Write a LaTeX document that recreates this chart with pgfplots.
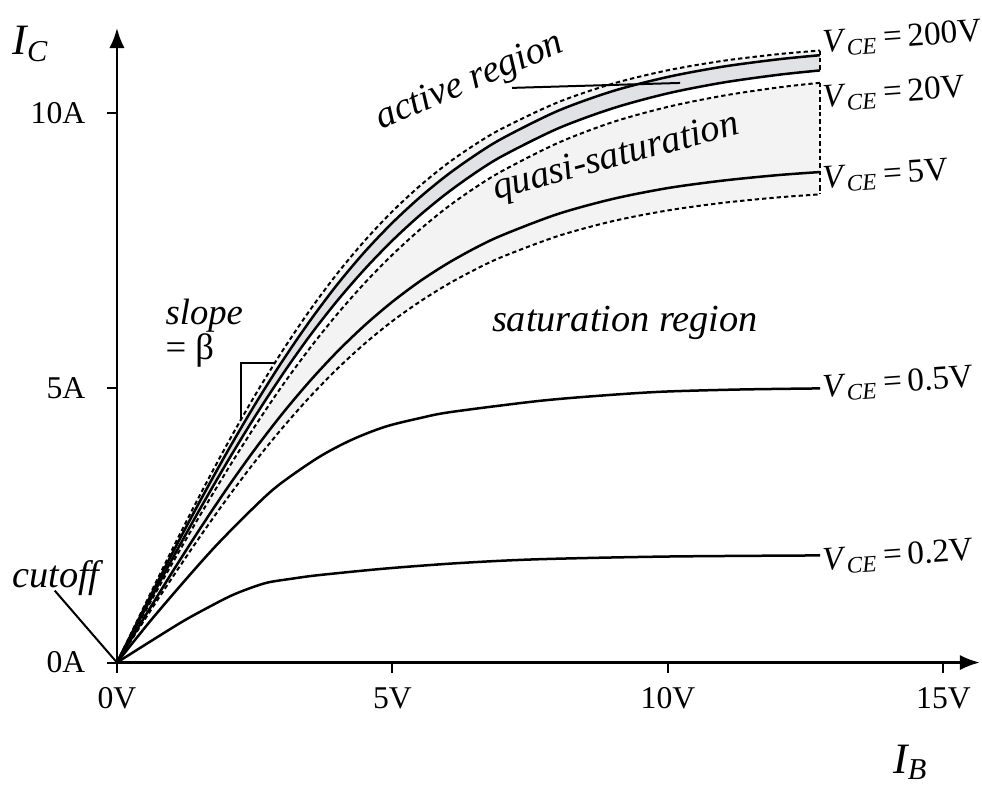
\documentclass[border=0pt]{standalone}
\usepackage{fontspec}
\setmainfont{Liberation Serif}[ItalicFont={Liberation Serif Italic}]
\usepackage{pgfplots}
\usepackage{pgfplotstable}
\pgfplotsset{compat=1.18}
\usepgfplotslibrary{fillbetween}
\usetikzlibrary{arrows.meta}

\definecolor{bandlight}{HTML}{F3F3F3}
\definecolor{banddark}{HTML}{E1E2E5}

% upper bundle: envelope top, 200V, 20V, quasi top, 5V, envelope bottom
\pgfplotstableread{
x     top    v200   v20    qtop   v5     bot
0     0      0      0      0      0      0
0.5   1.037  0.998  0.948  0.908  0.827  0.778
1     2.055  1.980  1.879  1.799  1.640  1.541
1.5   3.038  2.926  2.782  2.668  2.425  2.281
2     3.976  3.833  3.649  3.502  3.174  2.987
2.5   4.856  4.689  4.470  4.296  3.877  3.651
3     5.668  5.484  5.238  5.040  4.528  4.267
3.5   6.412  6.216  5.947  5.721  5.122  4.834
4     7.084  6.884  6.588  6.346  5.661  5.348
4.5   7.683  7.480  7.165  6.913  6.142  5.808
5     8.214  8.006  7.683  7.424  6.568  6.216
5.5   8.679  8.470  8.144  7.883  6.942  6.571
6     9.085  8.879  8.552  8.291  7.265  6.883
6.5   9.430  9.234  8.911  8.644  7.544  7.153
7     9.726  9.544  9.223  8.952  7.782  7.388
8     10.197 10.041 9.720  9.457  8.164  7.762
9     10.538 10.402 10.089 9.838  8.439  8.035
10    10.781 10.660 10.361 10.115 8.637  8.230
11    10.953 10.847 10.557 10.318 8.773  8.368
12    11.074 10.980 10.698 10.468 8.873  8.467
12.76 11.140 11.055 10.778 10.553 8.928  8.522
}\upper

\pgfplotstableread{
x     y
0     0
0.6   0.75
1.23  1.49
1.8   2.13
2.43  2.77
2.92  3.22
3.65  3.73
4.25  4.05
4.86  4.29
5.5   4.45
6.06  4.56
7.64  4.76
8.8   4.86
9.9   4.93
11.3  4.97
12.76 4.99
}\halfvolt

\pgfplotstableread{
x     y
0     0
0.6   0.38
1.23  0.77
1.8   1.08
2.1   1.23
2.43  1.36
2.75  1.46
3.2   1.53
3.65  1.59
4.86  1.71
6.2   1.81
7.64  1.88
10    1.93
12.76 1.95
}\fifthvolt

\begin{document}
\begin{tikzpicture}[
  solid line/.style={black, line width=0.75pt, smooth},
  dash line/.style={black, line width=0.6pt, smooth, dash pattern=on 1.3pt off 0.9pt},
  vce/.style={anchor=base west, inner sep=0pt, rotate=4, font=\fontsize{10}{12}\selectfont},
]
\begin{axis}[
  set layers,
  scale only axis,
  width=258.9pt, height=190.4pt,
  xmin=0, xmax=15.66, ymin=0, ymax=11.55,
  axis lines=left,
  axis line style={line width=0.75pt, -{Latex[length=6pt,width=4.6pt]}},
  tick align=outside,
  major tick length=3pt,
  tick style={line width=0.6pt, black},
  xtick={0,5,10,15}, xticklabels={0V,5V,10V,15V},
  ytick={0,5,10}, yticklabels={0A,5A,10A},
  ticklabel style={font=\fontsize{9.5}{11}\selectfont},
  xticklabel style={yshift=-1pt},
  yticklabel style={xshift=-3pt},
  clip=false,
]
\addplot[dash line, name path=top] table[x=x, y=top] {\upper};
\addplot[solid line, name path=v200] table[x=x, y=v200] {\upper};
\addplot[solid line, name path=v20] table[x=x, y=v20] {\upper};
\addplot[dash line, name path=qtop] table[x=x, y=qtop] {\upper};
\addplot[solid line] table[x=x, y=v5] {\upper};
\addplot[dash line, name path=bot] table[x=x, y=bot] {\upper};
\addplot[bandlight] fill between[of=top and v20];
\addplot[banddark] fill between[of=v200 and v20];
\addplot[bandlight] fill between[of=qtop and bot];
\addplot[dash line] coordinates {(12.76,11.140) (12.76,10.778)};
\addplot[dash line] coordinates {(12.76,10.553) (12.76,8.522)};
\addplot[solid line] table {\halfvolt};
\addplot[solid line] table {\fifthvolt};

% annotations
\draw[line width=0.6pt] (axis cs:7.17,10.46) -- (axis cs:10.22,10.55);
\draw[line width=0.6pt] (axis cs:2.866,5.45) -- (axis cs:2.25,5.45) -- (axis cs:2.25,4.42);
\draw[line width=0.6pt] (axis cs:-1.13,1.31) -- (axis cs:0,0);

\node[rotate=23, font=\fontsize{11.5}{13}\selectfont\itshape] at (axis cs:6.41,10.56) {active region};
\node[rotate=15, font=\fontsize{11.5}{13}\selectfont\itshape] at (axis cs:9.06,9.18) {quasi-saturation};
\node[font=\fontsize{11.5}{13}\selectfont\itshape] at (axis cs:9.22,6.19) {saturation region};
\node[font=\fontsize{11.5}{13}\selectfont\itshape] at (axis cs:-1.107,1.53) {cutoff};
\node[anchor=west, align=left, inner sep=0pt, font=\fontsize{11}{10.5}\selectfont] at (axis cs:0.871,5.99) {\textit{slope}\\= β};

\node[anchor=base west, inner sep=0pt, font=\fontsize{13}{15}\selectfont\itshape] at (axis cs:-1.906,11.06) {I\textsubscript{C}};
\node[anchor=base west, inner sep=0pt, font=\fontsize{13}{15}\selectfont\itshape] at (axis cs:14.08,-2.02) {I\textsubscript{B}};

\node[vce] at (axis cs:12.81,11.11) {\textit{V}\textsubscript{\textit{CE}}\,=\,200V};
\node[vce] at (axis cs:12.81,10.11) {\textit{V}\textsubscript{\textit{CE}}\,=\,20V};
\node[vce] at (axis cs:12.81,8.63) {\textit{V}\textsubscript{\textit{CE}}\,=\,5V};
\node[vce] at (axis cs:12.81,4.83) {\textit{V}\textsubscript{\textit{CE}}\,=\,0.5V};
\node[vce] at (axis cs:12.81,1.68) {\textit{V}\textsubscript{\textit{CE}}\,=\,0.2V};

\coordinate (bl) at (axis cs:-2.123,-2.386);
\coordinate (tr) at (axis cs:15.70,12.06);
\end{axis}
\pgfresetboundingbox
\path (bl) rectangle (tr);
\end{tikzpicture}
\end{document}
